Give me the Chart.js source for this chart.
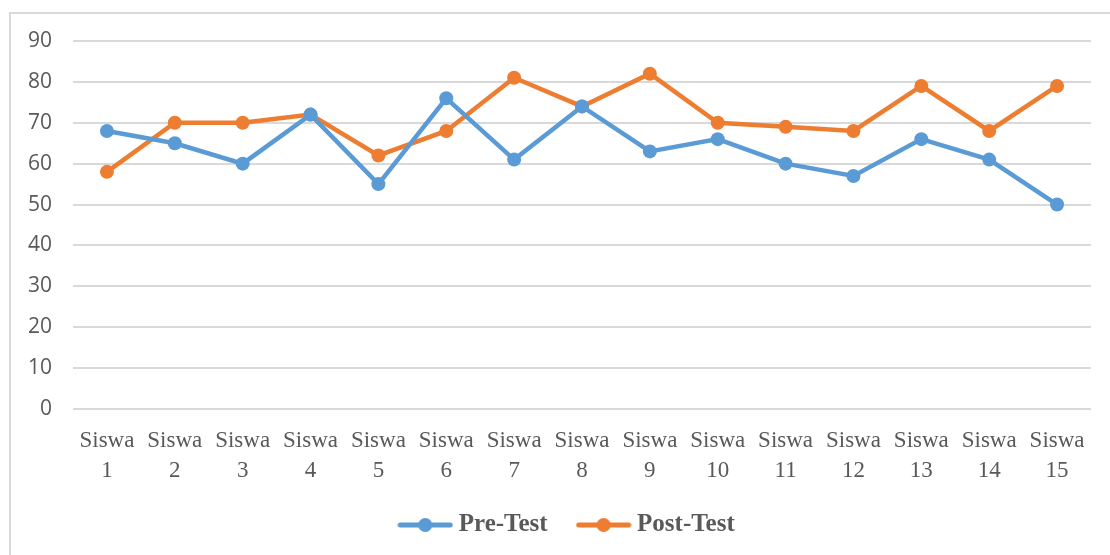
<!DOCTYPE html>
<html><head><meta charset="utf-8">
<script src="https://cdn.jsdelivr.net/npm/chart.js@4"></script>
<style>
html,body{margin:0;padding:0;background:#fff;overflow:hidden}
#frame{position:absolute;left:9px;top:12px;width:1200px;height:700px;border:2px solid #d9d9d9;box-sizing:border-box}
#wrap{position:absolute;left:0;top:0;width:1110px;height:555px}
</style></head>
<body><div id="frame"></div><div id="wrap"><canvas id="c" width="1110" height="555"></canvas></div>
<script>
const categories = [
  ["Siswa","1"],["Siswa","2"],["Siswa","3"],["Siswa","4"],["Siswa","5"],
  ["Siswa","6"],["Siswa","7"],["Siswa","8"],["Siswa","9"],["Siswa","10"],
  ["Siswa","11"],["Siswa","12"],["Siswa","13"],["Siswa","14"],["Siswa","15"]
];
const preTest  = [68, 65, 60, 72, 55, 76, 61, 74, 63, 66, 60, 57, 66, 61, 50];
const postTest = [58, 70, 70, 72, 62, 68, 81, 74, 82, 70, 69, 68, 79, 68, 79];
const seriesNames = ["Pre-Test", "Post-Test"];
const yMin = 0, yMax = 90, yStep = 10;

const BLUE = "#5B9BD5", ORANGE = "#ED7D31";

function legendIcon(color){
  const cv = document.createElement("canvas");
  cv.width = 56; cv.height = 16;
  const g = cv.getContext("2d");
  g.strokeStyle = color; g.lineWidth = 5; g.lineCap = "round";
  g.beginPath(); g.moveTo(3, 8); g.lineTo(53, 8); g.stroke();
  g.fillStyle = color; g.beginPath(); g.arc(28, 8, 7, 0, Math.PI*2); g.fill();
  return cv;
}

const legendFitPlugin = {
  id: "legendFit",
  beforeInit(chart){
    const lg = chart.legend;
    if (!lg) return;
    const origFit = lg.fit;
    lg.fit = function(){
      origFit.call(this);
      this.height = this.options.labels.padding + 42.5;
    };
    const origDraw = lg.draw;
    lg.draw = function(){
      const ctx = this.ctx;
      ctx.save();
      ctx.translate(24, 0);
      origDraw.apply(this, arguments);
      ctx.restore();
    };
  }
};

new Chart(document.getElementById("c"), {
  type: "line",
  plugins: [legendFitPlugin],
  data: {
    labels: categories,
    datasets: [
      { label: seriesNames[0], data: preTest, borderColor: BLUE, backgroundColor: BLUE,
        borderWidth: 4.5, pointRadius: 7, pointBorderWidth: 0, pointBackgroundColor: BLUE,
        pointStyle: "circle", tension: 0 },
      { label: seriesNames[1], data: postTest, borderColor: ORANGE, backgroundColor: ORANGE,
        borderWidth: 4.5, pointRadius: 7, pointBorderWidth: 0, pointBackgroundColor: ORANGE,
        pointStyle: "circle", tension: 0 }
    ]
  },
  options: {
    responsive: false,
    animation: false,
    devicePixelRatio: 1,
    layout: { padding: { left: 0, right: 19, top: 41, bottom: 0 } },
    plugins: {
      legend: {
        position: "bottom",
        labels: {
          usePointStyle: true,
          pointStyleWidth: 42,
          boxHeight: 16,
          padding: 35,
          color: "#595959",
          font: { family: "'Liberation Serif', serif", size: 25, weight: "bold" },
          generateLabels(chart){
            return chart.data.datasets.map((ds, i) => ({
              text: ds.label, pointStyle: legendIcon(ds.borderColor),
              fillStyle: ds.borderColor, strokeStyle: ds.borderColor, lineWidth: 0,
              fontColor: "#595959", datasetIndex: i, hidden: false
            }));
          }
        }
      },
      tooltip: { enabled: false }
    },
    scales: {
      x: {
        offset: true,
        afterFit(scale){ scale.height = 68.5; },
        grid: { display: false },
        border: { display: false },
        ticks: {
          color: "#595959", padding: 9, maxRotation: 0, autoSkip: false,
          font: { family: "'Liberation Serif', serif", size: 23, lineHeight: 1.3 }
        }
      },
      y: {
        min: yMin, max: yMax,
        afterFit(scale){ scale.width = 73; },
        grid: { color: "#d9d9d9", lineWidth: 2, drawTicks: false },
        border: { display: false },
        ticks: {
          stepSize: yStep, padding: 21, color: "#595959",
          font: { family: "'Open Sans', sans-serif", size: 21 }
        }
      }
    }
  }
});
</script>
</body></html>
